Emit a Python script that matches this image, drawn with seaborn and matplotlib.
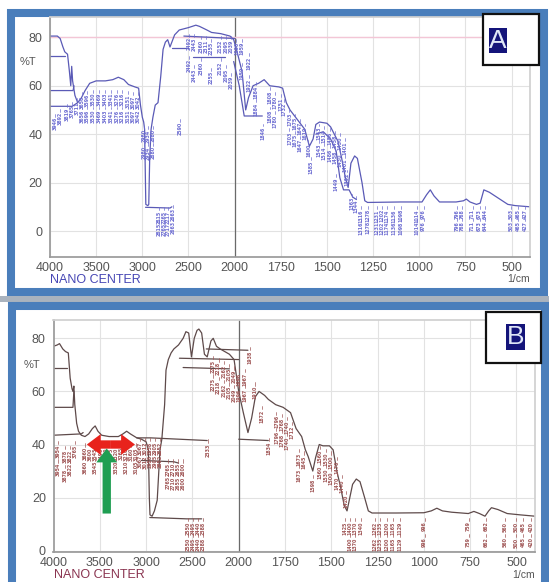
import numpy as np
import pandas as pd
import matplotlib
matplotlib.use("Agg")
import matplotlib.pyplot as plt
import seaborn as sns
from matplotlib.patches import Rectangle, FancyArrowPatch
from matplotlib.ticker import FixedLocator

# ---------------- panel A : spectrum (1/cm, %T) ----------------
a_wn = [4000, 3920, 3890, 3860, 3840, 3810, 3790, 3775, 3765, 3755, 3730, 3700, 3660, 3620,
        3570, 3500, 3400, 3320, 3260, 3200, 3150, 3080, 3040, 3020, 3000, 2985, 2975, 2968,
        2962, 2940, 2930, 2920, 2905, 2885, 2860, 2830, 2800, 2775, 2750, 2725, 2700, 2680,
        2650, 2600, 2550, 2500, 2420, 2380, 2300, 2250, 2150, 2100, 2050, 2010, 1990, 1960,
        1940, 1925, 1900, 1870, 1840, 1810, 1760, 1740, 1720, 1700, 1670, 1640, 1620, 1595,
        1575, 1560, 1540, 1500, 1480, 1460, 1440, 1420, 1400, 1385, 1370, 1350, 1335, 1310,
        1295, 1280, 1100, 985, 960, 940, 920, 890, 800, 760, 745, 725, 690, 670, 650, 620,
        560, 520, 480, 400]
a_t = [80.5, 80.5, 79.5, 76, 74, 73, 66, 60, 68, 62, 56, 53, 55, 58,
       61, 62, 62, 62.5, 63.5, 62.5, 60.5, 59.5, 59, 52, 47, 45, 42, 25,
       11, 10.5, 11, 30, 42, 47, 52, 53, 64, 75, 78, 79, 76, 78,
       81, 83, 83.5, 84, 85, 84.5, 83, 82, 81.5, 81, 80.5, 79, 75, 66,
       50, 55, 60, 61, 62.5, 60, 59.5, 59, 53, 50, 47, 44, 42, 35,
       38, 44, 45, 44.5, 43, 40, 37, 30, 22, 18, 28, 31, 30, 20,
       12.5, 11.8, 12, 12, 15, 17, 14.5, 12, 12, 12.5, 13.2, 12, 11, 11.5, 17, 16,
       13, 11, 10.5, 10]

# overlaid trace fragments in panel A
a_extra_wn = [[4000, 3840], [4000, 3750, 3740], [4000, 3760, 3700],
              [2965, 2700, 2680], [2680, 2500], [2550, 2000], [2450, 2100],
              [2010, 1975, 1948, 1850], [1560, 1520, 1480, 1450, 1430, 1410, 1380, 1360, 1340]]
a_extra_t = [[72.3, 72.3], [58, 58, 60], [51.5, 51.5, 53],
             [9.8, 9.5, 10], [75.5, 75.5], [80.5, 79.5], [72, 72],
             [70, 60, 47.5, 47.5], [40, 41, 38, 33, 22, 17, 17, 14, 13]]

# peak-pick labels panel A (position, top of label in %T)
a_lab_wn = [3946, 3892, 3819, 3765, 3711,
            3656, 3596, 3530, 3469, 3403, 3341, 3276, 3216, 3151, 3097, 3042,
            3656, 3596, 3530, 3469, 3403, 3341, 3276, 3216, 3151, 3097, 3042,
            2980, 2934, 2880, 2980, 2934, 2880,
            2815, 2765, 2717, 2663, 2815, 2765, 2717, 2663, 2590,
            2492, 2443, 2360, 2311, 2255, 2152, 2095, 2039, 1990, 1959, 1922,
            2492, 2443, 2360, 2255, 2152, 2095, 2039, 1959, 1922,
            1884, 1884, 1846, 1808, 1780, 1751, 1732, 1703, 1675, 1647, 1619, 1600, 1585,
            1808, 1780, 1703, 1675, 1647,
            1543, 1514, 1486, 1458, 1430, 1401, 1543, 1514, 1486, 1458, 1430, 1401,
            1449, 1392, 1363, 1344,
            1316, 1278, 1231, 1202, 1174, 1136, 1098, 1014, 976, 796, 768, 711, 673, 644,
            503, 465, 427,
            1316, 1278, 1231, 1202, 1174, 1136, 1098, 1014, 976, 796, 768, 711, 673, 644,
            503, 465, 427]
a_lab_top = [47, 49, 51, 52, 53.5,
             56, 56.5, 57, 57, 57, 57, 57, 57, 56.5, 56, 56,
             50, 50, 50, 50, 50, 50, 50, 50, 50, 50, 50,
             42, 42, 42, 35, 35, 35,
             8.5, 8.5, 8.5, 9.5, 3.5, 3.5, 3.5, 4, 45,
             80, 80, 79, 79, 78, 79, 79, 79, 78, 78, 72,
             71, 67, 70, 66, 70, 67, 64, 68, 63,
             60, 53, 43, 58, 56, 55, 53, 49, 47, 45, 43, 36, 29,
             50, 48, 41, 40, 38,
             43, 42, 41, 40, 39, 37, 36, 35, 34, 33, 32, 30,
             22, 24, 14, 13,
             9, 9, 9, 9, 9, 9, 9, 9, 9, 9, 9, 9, 9, 9,
             9, 9, 9,
             4, 4, 4, 4, 4, 4, 4, 4, 4, 4, 4, 4, 4, 4,
             4, 4, 4]

# ---------------- panel B : spectrum (1/cm, %T) ----------------
b_wn = [4000, 3960, 3935, 3900, 3870, 3840, 3820, 3800, 3790, 3780, 3770, 3750, 3730, 3700,
        3660, 3620, 3580, 3550, 3520, 3480, 3400, 3300, 3250, 3210, 3170, 3100, 3050, 3000,
        2975, 2965, 2958, 2935, 2910, 2880, 2850, 2830, 2800, 2785, 2760, 2730, 2700, 2650,
        2600, 2570, 2540, 2510, 2480, 2450, 2430, 2400, 2370, 2340, 2300, 2275, 2240, 2200,
        2150, 2100, 2050, 2000, 1975, 1950, 1930, 1910, 1890, 1860, 1840, 1800, 1760, 1720,
        1690, 1660, 1640, 1625, 1600, 1585, 1565, 1545, 1510, 1490, 1470, 1450, 1430, 1415,
        1400, 1385, 1365, 1345, 1320, 1300, 1280, 1150, 1000, 960, 930, 900, 850, 760, 730,
        700, 670, 650, 635, 600, 550, 480, 400]
b_t = [77, 77.5, 78, 76, 75, 74.5, 65, 61, 60, 62, 55, 48, 45, 43.5,
       43, 44, 46, 47, 45, 43.5, 43, 43, 44, 45, 44, 42.5, 42, 41,
       38, 20, 13.5, 13, 15, 19, 38, 42, 55, 68, 72, 74.5, 76, 77.5,
       80, 82.5, 82, 73, 80, 83, 83.5, 82, 74, 73, 79, 80, 77, 76,
       75, 74, 72, 60, 52, 44.5, 50, 58, 60, 58.5, 57, 55, 54, 52,
       46, 43, 38, 35.5, 30, 35, 40, 39.5, 39.5, 38, 30, 24, 17, 15,
       20, 25, 27, 26, 20, 15, 14.2, 14.2, 14.3, 15, 16, 15, 14.5, 14, 14.8,
       14, 13, 15, 16.2, 15.5, 14, 13.5, 13]

b_extra_wn = [[4000, 3850], [4000, 3790, 3780], [4000, 3700, 3680],
              [3100, 2950, 2340], [3050, 2700, 2650], [2960, 2560, 2400],
              [2640, 2000], [2600, 2100], [2350, 1950], [2000, 1840]]
b_extra_t = [[68.7, 68.7], [54, 54, 60], [43.5, 44, 44.5],
             [42.5, 42.5, 41.5], [34, 33.5, 33], [12.5, 12, 12],
             [72.5, 72], [69, 68.5], [76, 75.5], [42, 41.5]]

b_lab_wn = [3954, 3878, 3822, 3765, 3954, 3878, 3822,
            3660, 3600, 3545, 3490, 3430, 3375, 3320, 3265, 3210, 3160, 3105,
            3660, 3545, 3430, 3320, 3210, 3105,
            3067, 3012, 2958, 2905, 2852, 3067, 3012, 2958, 2905, 2852,
            2765, 2710, 2655, 2600, 2765, 2710, 2655, 2600, 2333,
            2550, 2495, 2440, 2388, 2550, 2495, 2440, 2388,
            2275, 2218, 2162, 2105, 2049, 1996, 1967, 1938,
            2275, 2218, 2162, 2105, 2049, 1996, 1967,
            1910, 1872, 1834, 1796, 1768, 1740, 1712, 1673, 1645, 1598,
            1796, 1768, 1740, 1673,
            1560, 1530, 1500, 1470, 1440, 1420, 1560, 1530, 1500, 1470,
            1425, 1400, 1370, 1340, 1262, 1235, 1200, 1165, 1129, 996, 759, 662,
            560, 500, 465, 420,
            1400, 1370, 1262, 1235, 1200, 1165, 1129, 996, 759, 662, 560, 500, 465, 420]
b_lab_top = [40, 38, 38, 40, 33, 31, 33,
             39, 39, 39, 39, 39, 39, 39, 39, 39, 39, 39,
             34, 34, 34, 34, 34, 34,
             41, 41, 41, 41, 41, 36, 36, 36, 36, 36,
             33, 33, 33, 33, 28, 28, 28, 28, 40.5,
             11, 11, 11, 11, 5, 5, 5, 5,
             72, 71, 70, 69, 68, 67, 67, 75.5,
             65, 64, 63, 62, 61, 61, 61,
             62, 53, 41, 51, 50, 49, 47, 37, 36, 27,
             45, 44, 43, 31,
             38, 37, 36, 34, 27, 21, 32, 31, 30, 28,
             11, 11, 11, 11, 11, 11, 11, 11, 11, 11, 11, 11,
             11, 11, 11, 11,
             5, 5, 5, 5, 5, 5, 5, 5, 5, 5, 5, 5, 5, 5]

# arrows drawn on panel B: broad O-H band
band_wn = [3640, 3120]
band_t = 40
up_wn = 3425
up_t = [14, 38.5]

x_major = [4000, 3500, 3000, 2500, 2000, 1750, 1500, 1250, 1000, 750, 500]
y_major = [0, 20, 40, 60, 80]

W, H = 549, 582


# 4000-2000 is drawn at half the scale of 2000-400
def fwd(w):
    w = np.asarray(w, dtype=float)
    return np.where(w >= 2000, 2000 + (w - 2000) / 2.0, w)


def inv(p):
    p = np.asarray(p, dtype=float)
    return np.where(p >= 2000, 2000 + 2 * (p - 2000), p)


def fx(x):
    return x / W


def fy(y):
    return 1 - y / H


def traces(wn, t, extra_wn, extra_t):
    rows = [pd.DataFrame({"wn": wn, "T": t, "trace": 0})]
    for i, (ew, et) in enumerate(zip(extra_wn, extra_t)):
        rows.append(pd.DataFrame({"wn": ew, "T": et, "trace": i + 1}))
    return pd.concat(rows, ignore_index=True)


def draw_panel(fig, box, ylim, df, lab_wn, lab_top, line_c, lab_c, foot_c, foot_px,
               top_line=None):
    x0, y0, x1, y1 = box
    ax = fig.add_axes([fx(x0), fy(y1), fx(x1) - fx(x0), fy(y0) - fy(y1)])
    sns.lineplot(data=df, x="wn", y="T", units="trace", estimator=None, sort=False,
                 color=line_c, lw=0.9, ax=ax, legend=False)
    # peak-pick marks: small tick and the wavenumber written downwards
    for w, top in zip(lab_wn, lab_top):
        ax.plot([w, w], [top + 1.4, top + 0.2], color=lab_c, lw=0.5)
        ax.text(w, top, f"{w:.0f}", rotation=90, fontsize=3.4, color=lab_c,
                ha="center", va="top", family="DejaVu Sans", fontweight="bold")
    ax.set_xscale("function", functions=(fwd, inv))
    ax.set_xlim(4000, 400)
    ax.set_ylim(*ylim)
    ax.xaxis.set_major_locator(FixedLocator(x_major))
    minor = list(range(4000, 2000, -100)) + list(range(2000, 399, -50))
    ax.xaxis.set_minor_locator(FixedLocator(minor))
    ax.yaxis.set_major_locator(FixedLocator(y_major))
    ax.yaxis.set_minor_locator(FixedLocator(list(range(-10, 88, 2))))
    ax.set_xticklabels([str(v) for v in x_major])
    ax.set_xlabel("")
    ax.set_ylabel("")
    ax.grid(True, which="major", color="#e2e2e2", lw=0.8)
    ax.set_axisbelow(True)
    ax.axvline(2000, color="#6a6a6a", lw=0.9, zorder=1)
    if top_line is not None:
        ax.axhline(top_line, color="#f3c6d6", lw=1.0, zorder=1)
    ax.tick_params(axis="both", which="major", direction="inout", length=5, width=0.7,
                   colors="#8a8a8a", labelcolor="#555555", labelsize=9)
    ax.tick_params(axis="x", which="major", pad=1.5)
    ax.tick_params(axis="y", which="major", pad=3)
    ax.tick_params(axis="both", which="minor", direction="inout", length=3, width=0.5,
                   colors="#9a9a9a")
    for side in ["top", "right"]:
        ax.spines[side].set_color("#d0d0d0")
    for side in ["left", "bottom"]:
        ax.spines[side].set_color("#9a9a9a")
    ax.text(-0.045, 70, "%T", transform=ax.get_yaxis_transform(), ha="center", va="center",
            fontsize=8, color="#555555")
    foot_y = -foot_px / (y1 - y0)
    ax.text(0.0, foot_y, "NANO CENTER", transform=ax.transAxes, ha="left", va="top",
            fontsize=9, color=foot_c)
    ax.text(1.0, foot_y, "1/cm", transform=ax.transAxes, ha="right", va="top",
            fontsize=7.5, color="#555555")
    return ax


def letter_box(fig, x0, y0, x1, y1, cx, cy, letter):
    fig.add_artist(Rectangle((fx(x0), fy(y1)), fx(x1) - fx(x0), fy(y0) - fy(y1),
                             transform=fig.transFigure, fc="white", ec="#111111", lw=1.6,
                             zorder=5))
    fig.text(fx(cx), fy(cy), letter, ha="center", va="center", fontsize=19,
             color="#dfe6f7", zorder=6,
             bbox=dict(boxstyle="square,pad=0.02", fc="#14147a", ec="none"))


def arrow(ax, start, end, color):
    ax.add_patch(FancyArrowPatch(start, end,
                                 arrowstyle="simple,head_length=1.0,head_width=1.5,tail_width=0.6",
                                 mutation_scale=10, lw=0, color=color, zorder=8,
                                 shrinkA=0, shrinkB=0))


def main():
    sns.set_theme(style="white")
    plt.rcParams["font.family"] = ["Liberation Sans", "DejaVu Sans"]

    fig = plt.figure(figsize=(W / 100, H / 100), dpi=100)
    fig.patch.set_facecolor("white")

    # frames
    blue = "#4a7ebb"
    fig.add_artist(Rectangle((fx(11), fy(292)), fx(544) - fx(11), fy(13) - fy(292),
                             transform=fig.transFigure, fill=False, ec=blue, lw=5.8, zorder=0))
    fig.add_artist(Rectangle((fx(0), fy(302)), 1, fy(296) - fy(302),
                             transform=fig.transFigure, fc="#aab3be", ec="none", zorder=0))
    fig.add_artist(Rectangle((fx(12), fy(620)), fx(545) - fx(12), fy(306) - fy(620),
                             transform=fig.transFigure, fill=False, ec=blue, lw=5.8, zorder=0))

    df_a = traces(a_wn, a_t, a_extra_wn, a_extra_t)
    draw_panel(fig, (50, 16.7, 530, 256.7), (-10.6, 88.5), df_a, a_lab_wn, a_lab_top,
               "#5a5ab6", "#6e6ed2", "#4646b4", 17.5, top_line=80)

    df_b = traces(b_wn, b_t, b_extra_wn, b_extra_t)
    ax_b = draw_panel(fig, (53.5, 320, 535, 551.5), (-0.3, 86.9), df_b, b_lab_wn, b_lab_top,
                      "#5e4a4a", "#a05656", "#8a3450", 18)

    # double red arrow = two heads from the middle of the band
    mid = (band_wn[0] + band_wn[1]) / 2
    arrow(ax_b, (mid, band_t), (band_wn[0], band_t), "#e8231c")
    arrow(ax_b, (mid, band_t), (band_wn[1], band_t), "#e8231c")
    arrow(ax_b, (up_wn, up_t[0]), (up_wn, up_t[1]), "#1f9e52")

    letter_box(fig, 483, 14, 539, 65, 498, 40.5, "A")
    letter_box(fig, 486, 312, 541, 363, 515.5, 337, "B")

    fig.savefig("out.png", dpi=100)


main()
